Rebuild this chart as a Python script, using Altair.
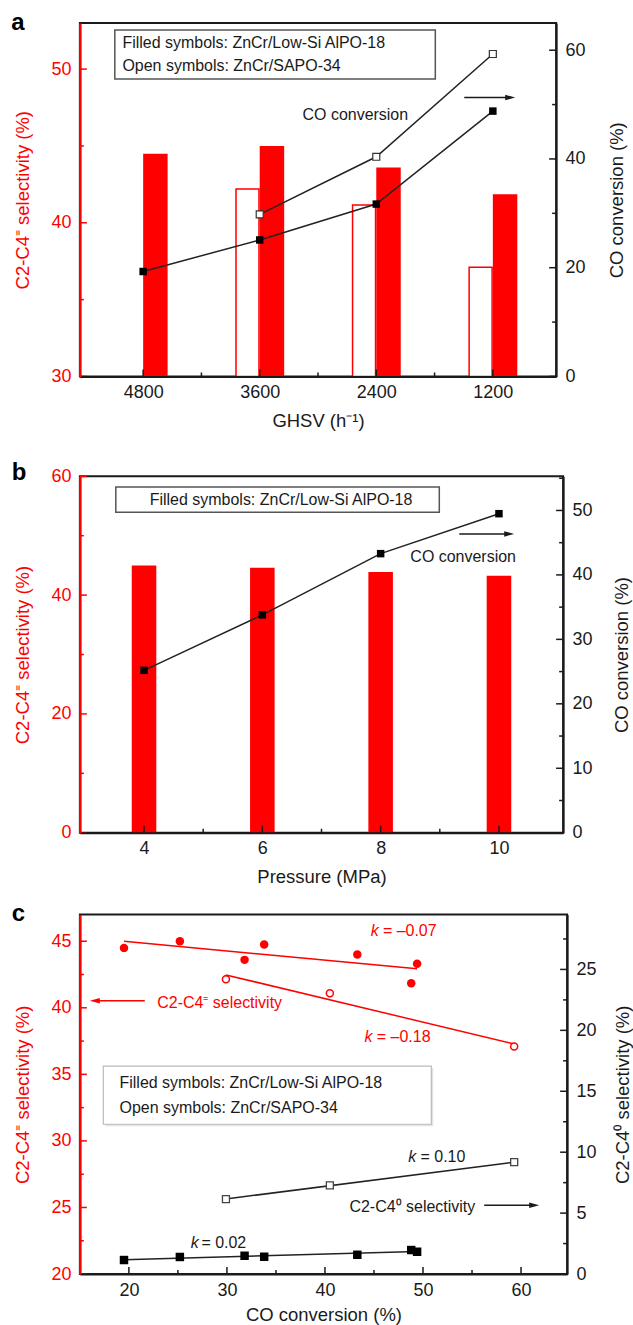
import altair as alt
import pandas as pd

FONT = "Liberation Sans"
RED = "#ff0000"
INK = "#1a1a1a"

# ---------------- panel a data ----------------
ghsv = [4800, 3600, 2400, 1200]
sel_filled_a = [44.5, 45.0, 43.6, 41.85]
conv_filled_a = [19.3, 25.1, 31.7, 48.8]
ghsv_open = [3600, 2400, 1200]
sel_open_a = [42.2, 41.15, 37.1]
conv_open_a = [29.8, 40.4, 59.3]

# ---------------- panel b data ----------------
pressure = [4, 6, 8, 10]
sel_b = [45.0, 44.6, 43.9, 43.25]
conv_b = [25.2, 33.8, 43.3, 49.5]

# ---------------- panel c data ----------------
conv_filled_c = [19.5, 25.2, 31.8, 33.8, 43.3, 48.8, 49.4]
olef_filled_c = [44.5, 45.0, 43.6, 44.75, 44.0, 41.85, 43.3]
paraf_filled_c = [1.15, 1.4, 1.5, 1.42, 1.58, 1.97, 1.83]
conv_open_c = [29.9, 40.5, 59.3]
olef_open_c = [42.15, 41.1, 37.1]
paraf_open_c = [6.15, 7.27, 9.18]

# ---------------- tick values ----------------
a_x_major = [4800, 3600, 2400, 1200]
a_x_minor = [4200, 3000, 1800]
a_l_major = [30, 40, 50]
a_l_minor = [35, 45]
a_r_major = [0, 20, 40, 60]
a_r_minor = [10, 30, 50]
b_x_major = [4, 6, 8, 10]
b_x_minor = [5, 7, 9]
b_l_major = [0, 20, 40, 60]
b_l_minor = [10, 30, 50]
b_r_major = [0, 10, 20, 30, 40, 50]
b_r_minor = [5, 15, 25, 35, 45, 55]
c_x_major = [20, 30, 40, 50, 60]
c_x_minor = [25, 35, 45, 55]
c_l_major = [20, 25, 30, 35, 40, 45]
c_l_minor = [22.5, 27.5, 32.5, 37.5, 42.5]
c_r_major = [0, 5, 10, 15, 20, 25]
c_r_minor = [2.5, 7.5, 12.5, 17.5, 22.5, 27.5]

ONE = [{"k": 0}]


def left_axis(values, title):
    return alt.Axis(values=values, title=title, orient="left", ticks=False, tickSize=0, grid=False,
                    domainColor=RED, domainWidth=2.5, labelColor=RED, titleColor=RED,
                    labelFontSize=18, titleFontSize=18.5, labelPadding=9, titlePadding=18,
                    titleFontWeight="normal", labelFont=FONT, titleFont=FONT, zindex=1)


def right_axis(values, title, pad):
    return alt.Axis(values=values, title=title, orient="right", ticks=False, tickSize=0, grid=False,
                    domainColor=INK, domainWidth=2, labelColor=INK, titleColor=INK,
                    labelFontSize=18, titleFontSize=18.5, labelPadding=9, titlePadding=pad,
                    titleAngle=270, titleBaseline="top",
                    titleFontWeight="normal", labelFont=FONT, titleFont=FONT, zindex=1)


def bottom_axis(values, title, tpad=10):
    return alt.Axis(values=values, title=title, format="d", ticks=False, tickSize=0, grid=False,
                    domainColor=INK, domainWidth=2, labelColor=INK, titleColor=INK,
                    labelFontSize=18, titleFontSize=18.5, labelPadding=7, titlePadding=tpad,
                    labelFlush=False, titleFontWeight="normal", labelFont=FONT, titleFont=FONT, zindex=1)


def yticks(values, scale, axis, W, side, length, color):
    d = pd.DataFrame({"v": values})
    x1, x2 = (0, length) if side == "left" else (W, W - length)
    return alt.Chart(d).mark_rule(color=color, strokeWidth=1.5).encode(
        y=alt.Y("v:Q", scale=scale, axis=axis), x=alt.value(x1), x2=alt.value(x2))


def xticks(values, scale, axis, H, length):
    d = pd.DataFrame({"v": values})
    return alt.Chart(d).mark_rule(color=INK, strokeWidth=1.5).encode(
        x=alt.X("v:Q", scale=scale, axis=axis), y=alt.value(H), y2=alt.value(H - length))


def label(s, x, y, size=16, color=INK, align="left", baseline="middle", style="normal", weight="normal"):
    return alt.Chart(alt.Data(values=[{"s": s}])).mark_text(
        font=FONT, fontSize=size, color=color, align=align, baseline=baseline,
        fontStyle=style, fontWeight=weight).encode(x=alt.value(x), y=alt.value(y), text="s:N")


def kslope(val, xk, xv, y, color):
    return label("k", xk, y, color=color, style="italic") + label(val, xv, y, color=color)


def box(x1, x2, y1, y2, stroke, sw=1.5, shadow=None):
    parts = []
    if shadow:
        parts.append(alt.Chart(alt.Data(values=ONE)).mark_rect(fill=shadow).encode(
            x=alt.value(x1 + 2), x2=alt.value(x2 + 2), y=alt.value(y1 + 2), y2=alt.value(y2 + 2)))
    parts.append(alt.Chart(alt.Data(values=ONE)).mark_rect(fill="white", stroke=stroke, strokeWidth=sw).encode(
        x=alt.value(x1), x2=alt.value(x2), y=alt.value(y1), y2=alt.value(y2)))
    return alt.layer(*parts)


def arrow(x1, x2, y, color):
    right = x2 > x1
    path = "M-1,-0.55L1,0L-1,0.55Z" if right else "M1,-0.55L-1,0L1,0.55Z"
    line = alt.Chart(alt.Data(values=ONE)).mark_rule(color=color, strokeWidth=1.5).encode(
        x=alt.value(x1), x2=alt.value(x2 - 4 if right else x2 + 4), y=alt.value(y))
    head = alt.Chart(alt.Data(values=ONE)).mark_point(shape=path, filled=True, size=100, color=color,
                                                      opacity=1, strokeWidth=0).encode(
        x=alt.value(x2 - 5 if right else x2 + 5), y=alt.value(y))
    return line + head


def spacer(y):
    # invisible mark that reserves room above a panel (for the uneven gaps between panels)
    return alt.Chart(alt.Data(values=ONE)).mark_rule(color="white", opacity=0, strokeWidth=1).encode(
        x=alt.value(0), x2=alt.value(1), y=alt.value(y))


# ======================= panel a =======================
WA, HA = 477, 354
xa = alt.Scale(domain=[600, 5400], reverse=True, nice=False, zero=False)
yal = alt.Scale(domain=[30, 53], nice=False, zero=False)
yar = alt.Scale(domain=[0, 65], nice=False, zero=False)
ax_a = bottom_axis(a_x_major, "GHSV (h⁻¹)")
al_a = left_axis(a_l_major, "C2-C4⁼ selectivity (%)")
ar_a = right_axis(a_r_major, "CO conversion (%)", 22)
da_f = pd.DataFrame({"ghsv": ghsv, "sel": sel_filled_a, "conv": conv_filled_a})
da_o = pd.DataFrame({"ghsv": ghsv_open, "sel": sel_open_a, "conv": conv_open_a})
XA = alt.X("ghsv:Q", scale=xa, axis=ax_a)

a_left = alt.layer(
    alt.Chart(da_f).mark_bar(color=RED, width=24.5, xOffset=12.25).encode(
        x=XA, y=alt.Y("sel:Q", scale=yal, axis=al_a), y2=alt.datum(30)),
    alt.Chart(da_o).mark_bar(fill="white", stroke=RED, strokeWidth=1.5, width=23, xOffset=-12.25).encode(
        x=XA, y=alt.Y("sel:Q", scale=yal, axis=al_a), y2=alt.datum(30)),
    yticks(a_l_major, yal, al_a, WA, "left", 7, RED),
    yticks(a_l_minor, yal, al_a, WA, "left", 4, RED),
)
YA_R = alt.Y("conv:Q", scale=yar, axis=ar_a)
a_right = alt.layer(
    alt.Chart(da_f).mark_line(color="#222", strokeWidth=1.5).encode(x=XA, y=YA_R),
    alt.Chart(da_o).mark_line(color="#222", strokeWidth=1.5).encode(x=XA, y=YA_R),
    alt.Chart(da_f).mark_point(shape="square", filled=True, color="black", size=56, opacity=1).encode(
        x=XA, y=YA_R),
    alt.Chart(da_o).mark_point(shape="square", fill="white", stroke="#333", strokeWidth=1.2, size=49,
                               opacity=1, filled=True).encode(x=XA, y=YA_R),
    yticks(a_r_major, yar, ar_a, WA, "right", 7, INK),
    yticks(a_r_minor, yar, ar_a, WA, "right", 4, INK),
)
panel_a = alt.layer(
    a_left, a_right,
    xticks(a_x_major, xa, ax_a, HA, 7), xticks(a_x_minor, xa, ax_a, HA, 4),
    box(35, 356, 7, 56, "#555"),
    label("Filled symbols: ZnCr/Low-Si AlPO-18", 42.6, 19.7),
    label("Open symbols: ZnCr/SAPO-34", 42.6, 43),
    label("CO conversion", 223, 92),
    arrow(385, 436, 74.7, INK),
    label("a", -62, 7, size=24, weight="bold", align="center", baseline="alphabetic", color="black"),
).resolve_scale(y="independent").properties(width=WA, height=HA)

# ======================= panel b =======================
WB, HB = 484, 357
xb = alt.Scale(domain=[3, 11], nice=False, zero=False)
ybl = alt.Scale(domain=[0, 60], nice=False, zero=False)
ybr = alt.Scale(domain=[0, 55.3], nice=False, zero=False)
ax_b = bottom_axis(b_x_major, "Pressure (MPa)")
al_b = left_axis(b_l_major, "C2-C4⁼ selectivity (%)")
ar_b = right_axis(b_r_major, "CO conversion (%)", 20)
db = pd.DataFrame({"p": pressure, "sel": sel_b, "conv": conv_b})
XB = alt.X("p:Q", scale=xb, axis=ax_b)
YB_R = alt.Y("conv:Q", scale=ybr, axis=ar_b)

b_left = alt.layer(
    alt.Chart(db).mark_bar(color=RED, width=24.6).encode(
        x=XB, y=alt.Y("sel:Q", scale=ybl, axis=al_b), y2=alt.datum(0)),
    yticks(b_l_major, ybl, al_b, WB, "left", 7, RED),
    yticks(b_l_minor, ybl, al_b, WB, "left", 4, RED),
)
b_right = alt.layer(
    alt.Chart(db).mark_line(color="#222", strokeWidth=1.5).encode(x=XB, y=YB_R),
    alt.Chart(db).mark_point(shape="square", filled=True, color="black", size=56, opacity=1).encode(
        x=XB, y=YB_R),
    yticks(b_r_major, ybr, ar_b, WB, "right", 7, INK),
    yticks(b_r_minor, ybr, ar_b, WB, "right", 4, INK),
)
panel_b = alt.layer(
    b_left, b_right,
    xticks(b_x_major, xb, ax_b, HB, 7), xticks(b_x_minor, xb, ax_b, HB, 4),
    box(36, 360, 10.7, 36, "#555"),
    label("Filled symbols: ZnCr/Low-Si AlPO-18", 201.5, 23.7, align="center"),
    label("CO conversion", 331, 80.7),
    arrow(380, 435, 57.7, INK),
    label("b", -61, 4, size=24, weight="bold", align="center", baseline="alphabetic", color="black"),
    spacer(-30.5),
).resolve_scale(y="independent").properties(width=WB, height=HB)

# ======================= panel c =======================
WC, HC = 488, 360
xc = alt.Scale(domain=[15, 64.7], nice=False, zero=False)
ycl = alt.Scale(domain=[20, 47], nice=False, zero=False)
ycr = alt.Scale(domain=[0, 29.5], nice=False, zero=False)
ax_c = bottom_axis(c_x_major, "CO conversion (%)", tpad=7)
al_c = left_axis(c_l_major, "C2-C4⁼ selectivity (%)")
ar_c = right_axis(c_r_major, "C2-C4⁰ selectivity (%)", 17)
dc_f = pd.DataFrame({"conv": conv_filled_c, "olef": olef_filled_c, "paraf": paraf_filled_c})
dc_o = pd.DataFrame({"conv": conv_open_c, "olef": olef_open_c, "paraf": paraf_open_c})
XC = alt.X("conv:Q", scale=xc, axis=ax_c)
YC_L = alt.Y("olef:Q", scale=ycl, axis=al_c)
YC_R = alt.Y("paraf:Q", scale=ycr, axis=ar_c)

c_left = alt.layer(
    alt.Chart(dc_f).transform_regression("conv", "olef").mark_line(color=RED, strokeWidth=1.5).encode(
        x=XC, y=YC_L),
    alt.Chart(dc_o).transform_regression("conv", "olef").mark_line(color=RED, strokeWidth=1.5).encode(
        x=XC, y=YC_L),
    alt.Chart(dc_f).mark_point(shape="circle", filled=True, color=RED, size=72, opacity=1).encode(
        x=XC, y=YC_L),
    alt.Chart(dc_o).mark_point(shape="circle", fill="white", stroke=RED, strokeWidth=1.5, size=49,
                               opacity=1, filled=True).encode(x=XC, y=YC_L),
    yticks(c_l_major, ycl, al_c, WC, "left", 7, RED),
    yticks(c_l_minor, ycl, al_c, WC, "left", 4, RED),
)
c_right = alt.layer(
    alt.Chart(dc_f).transform_regression("conv", "paraf").mark_line(color="#222", strokeWidth=1.5).encode(
        x=XC, y=YC_R),
    alt.Chart(dc_o).transform_regression("conv", "paraf").mark_line(color="#222", strokeWidth=1.5).encode(
        x=XC, y=YC_R),
    alt.Chart(dc_f).mark_point(shape="square", filled=True, color="black", size=72, opacity=1).encode(
        x=XC, y=YC_R),
    alt.Chart(dc_o).mark_point(shape="square", fill="white", stroke="#444", strokeWidth=1.3, size=49,
                               opacity=1, filled=True).encode(x=XC, y=YC_R),
    yticks(c_r_major, ycr, ar_c, WC, "right", 7, INK),
    yticks(c_r_minor, ycr, ar_c, WC, "right", 4, INK),
)
panel_c = alt.layer(
    c_left, c_right,
    xticks(c_x_major, xc, ax_c, HC, 7), xticks(c_x_minor, xc, ax_c, HC, 4),
    kslope("= –0.07", 291.3, 303.5, 16.7, RED),
    kslope("= –0.18", 285.2, 297.4, 122.7, RED),
    arrow(65, 10, 86.3, RED),
    label("C2-C4⁼ selectivity", 77.5, 88.7, color=RED),
    box(23.5, 352, 151.7, 210, "#bbbbbb", sw=1.2, shadow="#e4e4e4"),
    label("Filled symbols: ZnCr/Low-Si AlPO-18", 39.7, 168.3),
    label("Open symbols: ZnCr/SAPO-34", 39.7, 194),
    kslope("= 0.10", 329, 341.2, 242.7, INK),
    label("C2-C4⁰ selectivity", 270, 292.7),
    arrow(405, 460, 291, INK),
    kslope("= 0.02", 111, 121.7, 328.7, INK),
    label("c", -61.5, 6.5, size=24, weight="bold", align="center", baseline="alphabetic", color="black"),
).resolve_scale(y="independent").properties(width=WC, height=HC)

chart = alt.vconcat(panel_a, panel_b, panel_c, spacing=13).properties(
    padding={"left": 10, "top": 9, "right": 0, "bottom": 0}
).configure_view(stroke=INK, strokeWidth=2).configure_axis(labelFont=FONT, titleFont=FONT)

chart.save("out.html", embed_options={"renderer": "svg", "actions": False})
